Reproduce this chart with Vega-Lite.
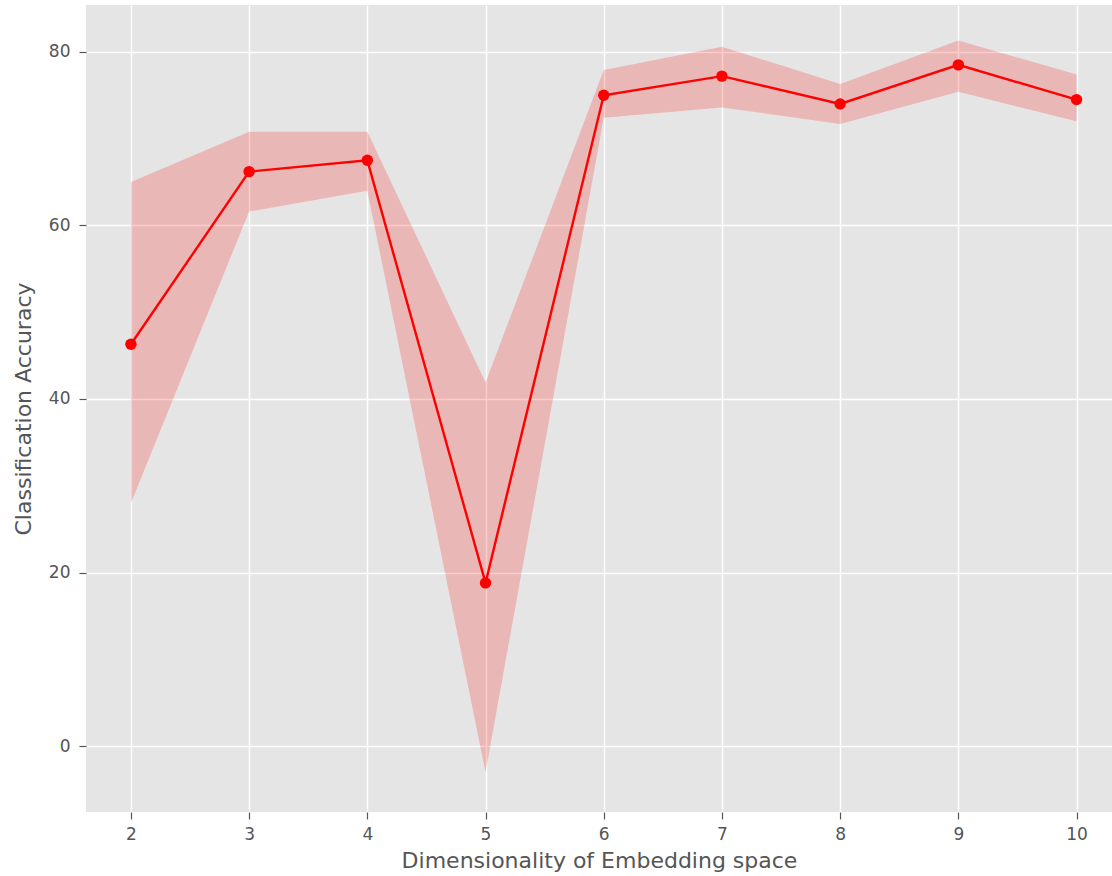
{
  "$schema": "https://vega.github.io/schema/vega-lite/v6.json",
  "width": 1026,
  "height": 807,
  "autosize": {"type": "none"},
  "padding": {"left": 86, "top": 5, "right": 0, "bottom": 64},
  "background": "white",
  "config": {
    "view": {"fill": "#e5e5e5", "stroke": null},
    "font": "DejaVu Sans",
    "axis": {
      "domain": false,
      "grid": true,
      "gridColor": "white",
      "gridWidth": 1.5,
      "tickColor": "#555555",
      "tickSize": 7,
      "tickWidth": 1.2,
      "labelColor": "#555555",
      "labelFontSize": 17,
      "labelFont": "DejaVu Sans",
      "titleColor": "#555555",
      "titleFontSize": 22,
      "titleFontWeight": "normal",
      "titleFont": "DejaVu Sans"
    }
  },
  "data": {
    "values": [
      {"dim": 2, "mean": 46.3, "lo": 28.0, "hi": 65.0},
      {"dim": 3, "mean": 66.2, "lo": 61.6, "hi": 70.8},
      {"dim": 4, "mean": 67.5, "lo": 64.0, "hi": 70.8},
      {"dim": 5, "mean": 18.8, "lo": -3.0, "hi": 41.9},
      {"dim": 6, "mean": 75.0, "lo": 72.4, "hi": 77.9},
      {"dim": 7, "mean": 77.2, "lo": 73.6, "hi": 80.6},
      {"dim": 8, "mean": 74.0, "lo": 71.7, "hi": 76.3},
      {"dim": 9, "mean": 78.5, "lo": 75.4, "hi": 81.3},
      {"dim": 10, "mean": 74.5, "lo": 72.0, "hi": 77.4}
    ]
  },
  "layer": [
    {
      "mark": {"type": "area", "color": "red", "opacity": 0.2},
      "encoding": {
        "x": {"field": "dim", "type": "quantitative"},
        "y": {"field": "lo", "type": "quantitative"},
        "y2": {"field": "hi"}
      }
    },
    {
      "mark": {"type": "line", "color": "red", "strokeWidth": 2.4},
      "encoding": {
        "x": {"field": "dim", "type": "quantitative"},
        "y": {"field": "mean", "type": "quantitative"}
      }
    },
    {
      "mark": {"type": "point", "filled": true, "color": "red", "opacity": 1, "size": 130},
      "encoding": {
        "x": {
          "field": "dim",
          "type": "quantitative",
          "scale": {"domain": [1.62, 10.3], "nice": false, "zero": false},
          "axis": {"values": [2, 3, 4, 5, 6, 7, 8, 9, 10], "format": "d", "title": "Dimensionality of Embedding space", "labelPadding": 7, "titlePadding": 8}
        },
        "y": {
          "field": "mean",
          "type": "quantitative",
          "scale": {"domain": [-7.6, 85.4], "nice": false, "zero": false},
          "axis": {"values": [0, 20, 40, 60, 80], "format": "d", "title": "Classification Accuracy", "labelPadding": 9, "titlePadding": 13}
        }
      }
    }
  ]
}
